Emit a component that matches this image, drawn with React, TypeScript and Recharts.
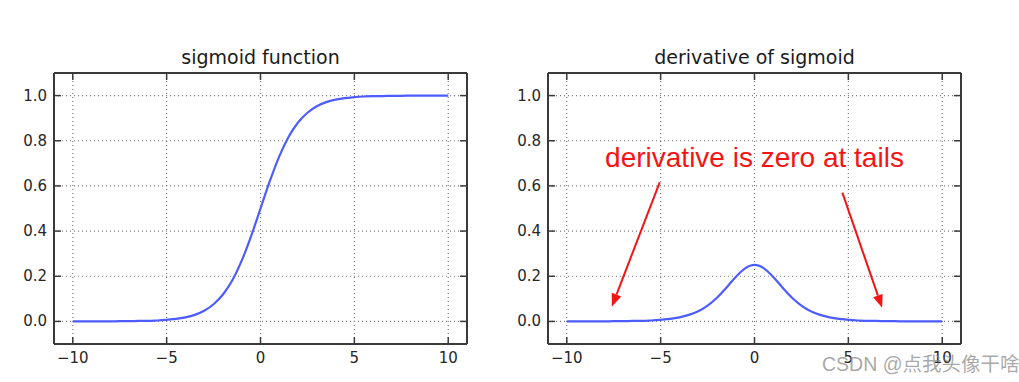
import React from "react";
import { LineChart, Line, XAxis, YAxis, CartesianGrid, ReferenceLine, ReferenceDot } from "recharts";

const xValues = [
  -10, -9.5, -9, -8.5, -8, -7.5, -7, -6.5, -6, -5.5, -5, -4.5, -4, -3.5, -3, -2.5, -2, -1.5, -1, -0.5,
  0, 0.5, 1, 1.5, 2, 2.5, 3, 3.5, 4, 4.5, 5, 5.5, 6, 6.5, 7, 7.5, 8, 8.5, 9, 9.5, 10,
];
const sigmoidValues = [
  0.0, 0.0, 0.0, 0.0, 0.0, 0.001, 0.001, 0.002, 0.002, 0.004, 0.007, 0.011, 0.018, 0.029, 0.047, 0.076,
  0.119, 0.182, 0.269, 0.378, 0.5, 0.622, 0.731, 0.818, 0.881, 0.924, 0.953, 0.971, 0.982, 0.989, 0.993,
  0.996, 0.998, 0.998, 0.999, 0.999, 1.0, 1.0, 1.0, 1.0, 1.0,
];
const derivativeValues = [
  0.0, 0.0, 0.0, 0.0, 0.0, 0.001, 0.001, 0.002, 0.002, 0.004, 0.007, 0.011, 0.018, 0.029, 0.045, 0.07,
  0.105, 0.149, 0.197, 0.235, 0.25, 0.235, 0.197, 0.149, 0.105, 0.07, 0.045, 0.029, 0.018, 0.011, 0.007,
  0.004, 0.002, 0.002, 0.001, 0.001, 0.0, 0.0, 0.0, 0.0, 0.0,
];
const xTicks = [-10, -5, 0, 5, 10];
const yTicks = [0, 0.2, 0.4, 0.6, 0.8, 1.0];

const sigmoidData = xValues.map((x, i) => ({ x, y: sigmoidValues[i] }));
const derivativeData = xValues.map((x, i) => ({ x, y: derivativeValues[i] }));

const AXIS = "#3a3a3a";
const LABEL = "#262626";
const BLUE = "#4d5cff";
const RED = "#f41414";
const TICK_LEN = 7;
const FONT = "'DejaVu Sans', sans-serif";

const fmtX = (v: number) => (v < 0 ? "\u2212" + Math.abs(v) : String(v));

const BottomTick = (p: any) => (
  <g>
    <line x1={p.x} x2={p.x} y1={p.y} y2={p.y - TICK_LEN} stroke={AXIS} strokeWidth={1.5} />
    <text x={p.x} y={p.y + 19} textAnchor="middle" fill={LABEL} fontSize={15} fontFamily={FONT}>
      {fmtX(p.payload.value)}
    </text>
  </g>
);
const TopTick = (p: any) => (
  <line x1={p.x} x2={p.x} y1={p.y} y2={p.y + TICK_LEN} stroke={AXIS} strokeWidth={1.5} />
);
const LeftTick = (p: any) => (
  <g>
    <line x1={p.x} x2={p.x + TICK_LEN} y1={p.y} y2={p.y} stroke={AXIS} strokeWidth={1.5} />
    <text x={p.x - 7} y={p.y + 5} textAnchor="end" fill={LABEL} fontSize={15} fontFamily={FONT}>
      {Number(p.payload.value).toFixed(1)}
    </text>
  </g>
);
const RightTick = (p: any) => (
  <line x1={p.x} x2={p.x - TICK_LEN} y1={p.y} y2={p.y} stroke={AXIS} strokeWidth={1.5} />
);

const Arrow = (p: any) => {
  const { x1, y1, x2, y2 } = p;
  const a = Math.atan2(y2 - y1, x2 - x1);
  const len = 13;
  const half = 5;
  const bx = x2 - len * Math.cos(a);
  const by = y2 - len * Math.sin(a);
  const pts = [
    `${x2},${y2}`,
    `${bx + half * Math.sin(a)},${by - half * Math.cos(a)}`,
    `${bx - half * Math.sin(a)},${by + half * Math.cos(a)}`,
  ].join(" ");
  return (
    <g>
      <line x1={x1} y1={y1} x2={bx} y2={by} stroke={RED} strokeWidth={2} />
      <polygon points={pts} fill={RED} />
    </g>
  );
};

function Panel({ data, children }: { data: { x: number; y: number }[]; children?: React.ReactNode }) {
  return (
    <LineChart width={500} height={382} data={data} margin={{ top: 63, right: 0, bottom: 0, left: 0 }}>
      <CartesianGrid stroke="#7a7a7a" strokeDasharray="1 3" strokeWidth={1.2} />
      <XAxis
        dataKey="x"
        type="number"
        domain={[-11, 11]}
        ticks={xTicks}
        allowDataOverflow
        height={38}
        axisLine={{ stroke: AXIS, strokeWidth: 2 }}
        tickLine={false}
        tickSize={0}
        tickMargin={0}
        tick={BottomTick}
      />
      <XAxis
        xAxisId="top"
        orientation="top"
        dataKey="x"
        type="number"
        domain={[-11, 11]}
        ticks={xTicks}
        allowDataOverflow
        height={10}
        axisLine={{ stroke: AXIS, strokeWidth: 2 }}
        tickLine={false}
        tickSize={0}
        tickMargin={0}
        tick={TopTick}
      />
      <YAxis
        type="number"
        domain={[-0.1, 1.1]}
        ticks={yTicks}
        allowDataOverflow
        width={54}
        axisLine={{ stroke: AXIS, strokeWidth: 2 }}
        tickLine={false}
        tickSize={0}
        tickMargin={0}
        tick={LeftTick}
      />
      <YAxis
        yAxisId="right"
        orientation="right"
        type="number"
        domain={[-0.1, 1.1]}
        ticks={yTicks}
        allowDataOverflow
        width={33}
        axisLine={{ stroke: AXIS, strokeWidth: 2 }}
        tickLine={false}
        tickSize={0}
        tickMargin={0}
        tick={RightTick}
      />
      <Line type="monotone" dataKey="y" stroke={BLUE} strokeWidth={2.2} dot={false} isAnimationActive={false} />
      {children}
    </LineChart>
  );
}

const titleStyle: React.CSSProperties = {
  position: "absolute",
  top: 47,
  width: 413,
  textAlign: "center",
  fontFamily: FONT,
  fontSize: 19,
  lineHeight: "20px",
  color: "#1a1a1a",
};

export default function App() {
  return (
    <div style={{ position: "absolute", left: 0, top: 0, width: 1019, height: 382, background: "#fff", overflow: "hidden" }}>
      <div style={{ position: "absolute", left: 0, top: 0 }}>
        <Panel data={sigmoidData} />
      </div>
      <div style={{ position: "absolute", left: 494, top: 0 }}>
        <Panel data={derivativeData}>
          <ReferenceLine segment={[{ x: -5.05, y: 0.616 }, { x: -7.6, y: 0.065 }]} shape={Arrow} />
          <ReferenceLine segment={[{ x: 4.68, y: 0.57 }, { x: 6.8, y: 0.06 }]} shape={Arrow} />
          <ReferenceDot
            x={0}
            y={0.728}
            r={0}
            fill="none"
            stroke="none"
            label={{
              value: "derivative is zero at tails",
              position: "center",
              fill: RED,
              fontSize: 28,
              fontFamily: "'Liberation Sans', Arial, sans-serif",
            }}
          />
        </Panel>
      </div>
      <div style={{ ...titleStyle, left: 54 }}>sigmoid function</div>
      <div style={{ ...titleStyle, left: 548 }}>derivative of sigmoid</div>
      <div
        style={{
          position: "absolute",
          left: 822,
          top: 352,
          fontSize: 19.5,
          lineHeight: "24px",
          fontFamily: "'Liberation Sans', 'Noto Sans CJK SC', sans-serif",
          color: "rgba(140,140,140,0.75)",
          whiteSpace: "nowrap",
        }}
      >
        CSDN @点我头像干啥
      </div>
    </div>
  );
}
